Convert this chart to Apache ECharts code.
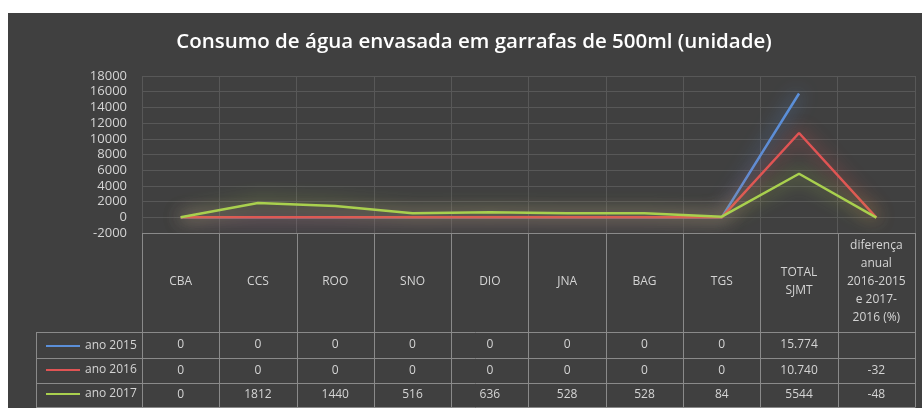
<!DOCTYPE html>
<html>
<head>
<meta charset="utf-8">
<title>Consumo de água envasada</title>
<script src="https://cdn.jsdelivr.net/npm/echarts@6/dist/echarts.min.js"></script>
<style>
  html, body { margin: 0; padding: 0; background: #fff; }
  #main { width: 922px; height: 408px; }
</style>
</head>
<body>
<div id="main"></div>
<script>
// categorias (cabeçalho da tabela)
var categories = ['CBA', 'CCS', 'ROO', 'SNO', 'DIO', 'JNA', 'BAG', 'TGS', 'TOTAL\nSJMT',
  'diferença\nanual\n2016-2015\ne 2017-\n2016 (%)'];
var seriesNames = ['ano 2015', 'ano 2016', 'ano 2017'];
// valores das linhas
var ano2015 = [0, 0, 0, 0, 0, 0, 0, 0, 15774, null];
var ano2016 = [0, 0, 0, 0, 0, 0, 0, 0, 10740, -32];
var ano2017 = [0, 1812, 1440, 516, 636, 528, 528, 84, 5544, -48];
// texto das células da tabela
var txt2015 = ['0', '0', '0', '0', '0', '0', '0', '0', '15.774', ''];
var txt2016 = ['0', '0', '0', '0', '0', '0', '0', '0', '10.740', '-32'];
var txt2017 = ['0', '1812', '1440', '516', '636', '528', '528', '84', '5544', '-48'];
var colors = ['#5b8fd8', '#e05454', '#a9d04e'];

var FONT = 'Open Sans';
var TXT = '#d4d4d4';
var BORDER = '#8a8a8a';
var GRID = '#585858';

var chart = echarts.init(document.getElementById('main'));

// linha de valores da tabela como eixo extra
function rowAxis(texts, margin) {
  return {
    type: 'category',
    gridIndex: 0,
    position: 'bottom',
    data: categories,
    axisLine: { show: false },
    axisTick: { show: false },
    splitLine: { show: false },
    axisLabel: {
      interval: 0,
      margin: margin,
      verticalAlign: 'middle',
      color: TXT,
      fontFamily: FONT,
      fontSize: 12,
      formatter: function (v, i) { return texts[i]; }
    }
  };
}

function lineSeries(name, data, color) {
  return {
    name: name,
    type: 'line',
    data: data,
    symbol: 'none',
    connectNulls: false,
    lineStyle: { width: 2.5, color: color, shadowBlur: 18, shadowColor: color },
    itemStyle: { color: color }
  };
}

var option = {
  backgroundColor: '#ffffff',
  animation: false,
  title: {
    text: 'Consumo de água envasada em garrafas de 500ml (unidade)',
    left: 469,
    textAlign: 'center',
    top: 27,
    textStyle: { color: '#ffffff', fontFamily: FONT, fontWeight: 600, fontSize: 20.5 }
  },
  legend: {
    orient: 'vertical',
    left: 41,
    top: 335,
    itemWidth: 34,
    itemHeight: 14,
    itemGap: 12,
    selectedMode: false,
    data: seriesNames.map(function (n, i) {
      return { name: n, icon: 'path://M0,6 L34,6 L34,8 L0,8 Z', itemStyle: { color: colors[i] } };
    }),
    textStyle: { color: TXT, fontFamily: FONT, fontSize: 12 }
  },
  grid: { left: 142, right: 7, top: 76, bottom: 175, containLabel: false },
  xAxis: [
    {
      type: 'category',
      data: categories,
      boundaryGap: true,
      axisLine: { onZero: false, show: false },
      axisTick: { show: false },
      splitLine: { show: true, interval: 0, lineStyle: { color: GRID, width: 1 } },
      axisLabel: {
        interval: 0,
        margin: 49,
        verticalAlign: 'middle',
        color: TXT,
        fontFamily: FONT,
        fontSize: 12,
        lineHeight: 18
      }
    },
    rowAxis(txt2015, 112),
    rowAxis(txt2016, 138),
    rowAxis(txt2017, 162)
  ],
  yAxis: {
    type: 'value',
    min: -2000,
    max: 18000,
    interval: 2000,
    axisLine: { show: false },
    axisTick: { show: false },
    splitLine: { lineStyle: { color: GRID, width: 1 } },
    axisLabel: {
      color: TXT, fontFamily: FONT, fontSize: 13, margin: 15,
      formatter: function (v) { return String(v); }
    }
  },
  series: [
    lineSeries(seriesNames[0], ano2015, colors[0]),
    lineSeries(seriesNames[1], ano2016, colors[1]),
    lineSeries(seriesNames[2], ano2017, colors[2])
  ]
};
chart.setOption(option);

// fundo escuro e grelha da tabela
var x0 = chart.convertToPixel({ xAxisIndex: 0 }, categories[0]);
var x1 = chart.convertToPixel({ xAxisIndex: 0 }, categories[1]);
var colW = x1 - x0;
var tableTop = chart.convertToPixel({ yAxisIndex: 0 }, -2000);
var rowLines = [332, 358, 383, 407];
var legendLeft = 36;
var right = x0 - colW / 2 + colW * categories.length;

var gfx = [{
  type: 'rect', z: -10, silent: true,
  shape: { x: 8, y: 13, width: 914, height: 395 },
  style: { fill: '#404040' }
}];
function hline(y, xa, xb) {
  gfx.push({ type: 'line', z: 5, silent: true,
    shape: { x1: xa, y1: y, x2: xb, y2: y },
    style: { stroke: BORDER, lineWidth: 1 } });
}
function vline(x, ya, yb) {
  gfx.push({ type: 'line', z: 5, silent: true,
    shape: { x1: x, y1: ya, x2: x, y2: yb },
    style: { stroke: BORDER, lineWidth: 1 } });
}
hline(Math.round(tableTop) + 0.5, x0 - colW / 2, right);
rowLines.forEach(function (y) { hline(y + 0.5, legendLeft, right); });
for (var i = 0; i <= categories.length; i++) {
  vline(Math.round(x0 - colW / 2 + colW * i) + 0.5, tableTop, 407.5);
}
vline(legendLeft + 0.5, rowLines[0], 407.5);
chart.setOption({ graphic: gfx });
</script>
</body>
</html>
